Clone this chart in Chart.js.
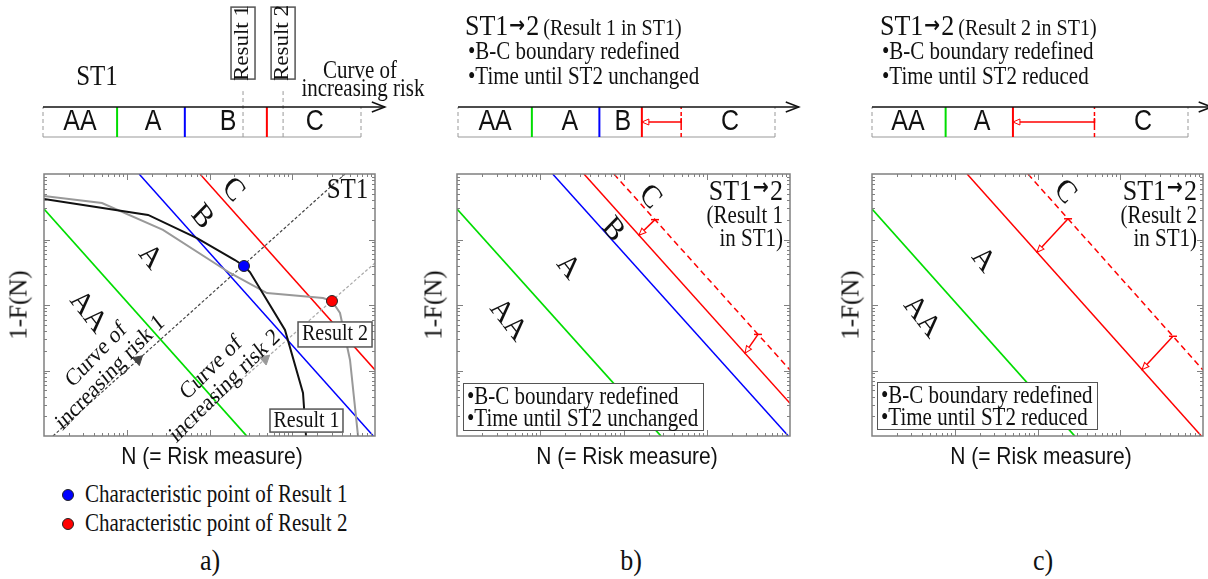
<!DOCTYPE html>
<html>
<head>
<meta charset="utf-8">
<title>Risk classes ST1 to ST2</title>
<script src="https://cdn.jsdelivr.net/npm/chart.js@4.4.1/dist/chart.umd.min.js"></script>
<style>
  body { margin: 0; background: #fff; }
  #page { position: relative; width: 1208px; height: 579px; overflow: hidden; font-family: "Liberation Serif", serif; color: #111; }
  canvas { position: absolute; }
  .t { position: absolute; white-space: nowrap; transform: translate(-50%, -50%) scaleY(1.15); line-height: 1; }
  .l { position: absolute; white-space: nowrap; transform: translate(0, -50%) scaleY(1.15); line-height: 1; }
  .sans { font-family: "Liberation Sans", Arial, sans-serif; }
  .ylab { position: absolute; white-space: nowrap; line-height: 1; font-size: 25px; transform: translate(-50%, -50%) rotate(-90deg); }
  .note { position: absolute; border: 1.5px solid #555; background: #fff; font-size: 21px; line-height: 22px; padding: 1px 5px 1px 3px; white-space: nowrap; }
  .note span { display: inline-block; transform: scaleY(1.15); }
  .dot { position: absolute; width: 10px; height: 10px; border-radius: 50%; border: 1px solid #222; transform: translate(-50%, -50%); }
  .arr { font-family: "DejaVu Sans", sans-serif; font-weight: bold; font-size: 19px; margin: 0 1px; position: relative; top: -3px; }
</style>
</head>
<body>
<div id="page">
  <canvas id="tlA" width="430" height="160" style="left:0;top:0"></canvas>
  <canvas id="tlB" width="390" height="160" style="left:430px;top:0"></canvas>
  <canvas id="tlC" width="378" height="160" style="left:830px;top:0"></canvas>
  <canvas id="plA" width="410" height="290" style="left:0;top:160px"></canvas>
  <canvas id="plB" width="400" height="290" style="left:420px;top:160px"></canvas>
  <canvas id="plC" width="378" height="290" style="left:830px;top:160px"></canvas>

  <div class="t" style="left:97px;top:75px;font-size:25px">ST1</div>
  <div class="l" style="left:465px;top:26px"><span style="font-size:26px">ST1<span class="arr">→</span>2</span> <span style="font-size:20px">(Result 1 in ST1)</span></div>
  <div class="l" style="left:468px;top:52px;font-size:21px">•B-C boundary redefined</div>
  <div class="l" style="left:468px;top:77px;font-size:21px">•Time until ST2 unchanged</div>
  <div class="l" style="left:880px;top:26px"><span style="font-size:26px">ST1<span class="arr">→</span>2</span> <span style="font-size:20px">(Result 2 in ST1)</span></div>
  <div class="l" style="left:882px;top:52px;font-size:21px">•B-C boundary redefined</div>
  <div class="l" style="left:882px;top:77px;font-size:21px">•Time until ST2 reduced</div>

  <div class="note" style="left:463px;top:383px"><span>•B-C boundary redefined</span><br><span>•Time until ST2 unchanged</span></div>
  <div class="note" style="left:877px;top:382px"><span>•B-C boundary redefined</span><br><span>•Time until ST2 reduced</span></div>

  <div class="ylab" style="left:18px;top:305px">1-F(N)</div>
  <div class="ylab" style="left:433px;top:305px">1-F(N)</div>
  <div class="ylab" style="left:850px;top:305px">1-F(N)</div>
  <div class="t sans" style="left:212px;top:455px;font-size:21px">N (= Risk measure)</div>
  <div class="t sans" style="left:627px;top:455px;font-size:21px">N (= Risk measure)</div>
  <div class="t sans" style="left:1041px;top:455px;font-size:21px">N (= Risk measure)</div>

  <div class="dot" style="left:68px;top:495px;background:#0000ff"></div>
  <div class="l" style="left:85px;top:495px;font-size:21px">Characteristic point of Result 1</div>
  <div class="dot" style="left:68px;top:524px;background:#ff0000"></div>
  <div class="l" style="left:85px;top:524px;font-size:21px">Characteristic point of Result 2</div>

  <div class="t" style="left:210px;top:561px;font-size:26px">a)</div>
  <div class="t" style="left:631px;top:561px;font-size:26px">b)</div>
  <div class="t" style="left:1043px;top:561px;font-size:26px">c)</div>
</div>
<script>
// ---- timeline: positions along the curve of increasing risk (box runs 0..100) ----
const st1Bounds = [23.3, 44.6, 70.4];       // AA|A, A|B, B|C in ST1
const st1Results = [62.9, 75.5];            // Result 1, Result 2
const st12r1Bounds = [23.3, 44.6, 58.0];    // B|C moved back after Result 1
const st12r2Bounds = [23.3, 44.6];          // B|C moved onto A|B after Result 2
const oldBC = 70.4;                         // former B|C boundary (dashed)

// ---- 1-F(N) vs N plots, points are [N, 1-F(N)] ----
const aaLine = [[1, 0.292], [282, 1e-4]];
const abLine = [[14.1, 1], [9550, 1e-4]];
const bcLine = [[76.7, 1], [1e4, 1.02e-3]];
const bcLineR1 = [[33.5, 1], [1e4, 3.16e-4]];
const bcLineR2 = [[14.1, 1], [9550, 1e-4]];

const result1N = [1, 18.1, 70.6, 203, 261, 308, 817, 1349, 1466];
const result1P = [0.415, 0.237, 0.105, 0.0486, 0.0394, 0.0319, 4.15e-3, 4.53e-4, 1e-4];
const result2N = [1, 5.02, 27.4, 177, 495, 2355, 3020, 3776, 4989, 6237];
const result2P = [0.461, 0.361, 0.140, 0.0308, 0.0152, 0.0128, 0.0115, 7.55e-3, 1.45e-3, 1e-4];
const charPoints = [[261, 0.0394], [3020, 0.0115]];

const risk1Line = [[1.285, 1e-4], [4335, 1]];
const risk2Line = [[40.5, 1e-4], [1e4, 0.0438]];
const riskMarks = [[13.7, 1.46e-3], [469, 1.49e-3]];

// shift of B-C boundary: [point on old line, point on new line]
const shiftR1 = [[[239, 0.201], [153, 0.116]], [[4130, 3.56e-3], [2880, 1.84e-3]]];
const shiftR2 = [[[234, 0.207], [98.6, 0.064]], [[4335, 3.33e-3], [1832, 1.03e-3]]];

const GREEN = '#00dd00', BLUE = '#0000ff', RED = '#ff0000';
const SERIF = '"Liberation Serif", serif', SANS = '"Liberation Sans", Arial, sans-serif';
const ARROW_FONT = 'bold 19px "DejaVu Sans", sans-serif';
const TL_END = 100, TL_ARROW = 107.5, DOT_LEVEL = 1.53;
const STRETCH = 1.15;   // text in the source figure is a bit taller than wide

function pts(pairs) { return pairs.map(p => ({x: p[0], y: p[1]})); }
function zip(xs, ys) { return xs.map((x, i) => ({x: x, y: ys[i]})); }

function lineSet(data, color, width, dash, extra) {
    return Object.assign({
        data: data, showLine: true, borderColor: color, borderWidth: width,
        borderDash: dash || [], pointRadius: 0, pointHoverRadius: 0, fill: false, tension: 0
    }, extra || {});
}

function dotSet(data, color, radius, extra) {
    return Object.assign({
        data: data, showLine: false, pointRadius: radius, pointHoverRadius: radius,
        backgroundColor: color, borderColor: '#222', borderWidth: 1
    }, extra || {});
}

// inward tick marks + frame of the log-log plots
function logSteps(scale) {
    let out = [];
    for (let e = Math.round(Math.log10(scale.min)); e < Math.round(Math.log10(scale.max)); e++) {
        for (let m = 1; m < 10; m++) {
            let v = m * Math.pow(10, e);
            if (v > scale.min * 1.0001 && v < scale.max * 0.9999) out.push([v, m == 1]);
        }
    }
    return out;
}

const frame = {
    id: 'frame',
    afterDatasetsDraw(chart) {
        const {ctx, chartArea: a, scales} = chart;
        ctx.save();
        ctx.strokeStyle = '#808080';
        ctx.lineWidth = 1;
        ctx.beginPath();
        logSteps(scales.x).forEach(([v, major]) => {
            let px = Math.round(scales.x.getPixelForValue(v)) + 0.5, len = major ? 6 : 3;
            ctx.moveTo(px, a.bottom); ctx.lineTo(px, a.bottom - len);
            ctx.moveTo(px, a.top); ctx.lineTo(px, a.top + len);
        });
        logSteps(scales.y).forEach(([v, major]) => {
            let py = Math.round(scales.y.getPixelForValue(v)) + 0.5, len = major ? 6 : 3;
            ctx.moveTo(a.left, py); ctx.lineTo(a.left + len, py);
            ctx.moveTo(a.right, py); ctx.lineTo(a.right - len, py);
        });
        ctx.stroke();
        ctx.lineWidth = 1.5;
        ctx.strokeRect(a.left, a.top, a.width, a.height);
        ctx.restore();
    }
};

// arrow heads at the end of datasets flagged with head / tail
const arrowHeads = {
    id: 'arrowHeads',
    afterDatasetsDraw(chart) {
        const ctx = chart.ctx;
        chart.data.datasets.forEach((ds, i) => {
            if (!ds.head) return;
            const el = chart.getDatasetMeta(i).data;
            const a = el[el.length - 2], b = el[el.length - 1];
            const ang = Math.atan2(b.y - a.y, b.x - a.x);
            ctx.save();
            ctx.strokeStyle = ds.borderColor;
            ctx.setLineDash([]);
            if (ds.tail != null) {
                const t = ds.tail * Math.PI / 180;
                ctx.lineWidth = ds.borderWidth;
                ctx.beginPath();
                ctx.moveTo(a.x - Math.cos(t) * 4, a.y - Math.sin(t) * 4);
                ctx.lineTo(a.x + Math.cos(t) * 4, a.y + Math.sin(t) * 4);
                ctx.stroke();
            }
            ctx.translate(b.x, b.y);
            ctx.rotate(ang);
            if (ds.head == 'open') {
                ctx.lineWidth = ds.borderWidth;
                ctx.beginPath(); ctx.moveTo(-13, -5); ctx.lineTo(0, 0); ctx.lineTo(-13, 5); ctx.stroke();
            } else {
                ctx.lineWidth = 1;
                ctx.fillStyle = '#fff';
                ctx.beginPath(); ctx.moveTo(0, 0); ctx.lineTo(-7, -3); ctx.lineTo(-7, 3); ctx.closePath();
                ctx.fill(); ctx.stroke();
            }
            ctx.restore();
        });
    }
};

// text placed at data coordinates; "ST1->2" gets its arrow in another font
function drawLine(ctx, s, y, size, family, align) {
    let parts = s.split('→');
    if (parts.length == 1) { ctx.textAlign = align; ctx.fillText(s, 0, y); return; }
    let main = size + 'px ' + family;
    let seq = [[parts[0], main], ['→', ARROW_FONT], [parts[1], main]];
    let widths = seq.map(p => { ctx.font = p[1]; return ctx.measureText(p[0]).width + (p[0] == '→' ? 2 : 0); });
    let total = widths.reduce((a, b) => a + b, 0);
    let x = align == 'right' ? -total : align == 'center' ? -total / 2 : 0;
    ctx.textAlign = 'left';
    seq.forEach((p, k) => {
        ctx.font = p[1];
        ctx.fillText(p[0], x + (p[0] == '→' ? 1 : 0), y - (p[0] == '→' ? 3 : 0));
        x += widths[k];
    });
}

function notes(items) {
    return {
        id: 'notes',
        afterDatasetsDraw(chart) {
            const {ctx, scales} = chart;
            items.forEach(it => {
                let rot = (it.rot || 0) * Math.PI / 180;
                ctx.save();
                ctx.translate(scales.x.getPixelForValue(it.at[0]), scales.y.getPixelForValue(it.at[1]));
                if (it.box) {
                    ctx.save();
                    ctx.rotate(rot);
                    let w = it.box[0], h = it.box[1];
                    ctx.fillStyle = '#fff';
                    ctx.fillRect(-w / 2, -h / 2, w, h);
                    ctx.strokeStyle = '#555';
                    ctx.lineWidth = 1.5;
                    ctx.strokeRect(-w / 2, -h / 2, w, h);
                    ctx.restore();
                }
                ctx.scale(1, STRETCH);
                ctx.rotate(rot);
                let family = it.sans ? SANS : SERIF;
                ctx.font = it.size + 'px ' + family;
                ctx.fillStyle = '#111';
                ctx.textBaseline = 'middle';
                let lines = it.text.split('\n');
                lines.forEach((s, k) => drawLine(ctx, s, (k - (lines.length - 1) / 2) * it.size * 1.0, it.size, family, it.align || 'center'));
                ctx.restore();
            });
        }
    };
}

function baseOptions(pad, xScale, yScale) {
    return {
        responsive: false, animation: false, events: [],
        layout: { padding: pad },
        plugins: { legend: { display: false }, tooltip: { enabled: false } },
        scales: { x: xScale, y: yScale }
    };
}

function timeline(id, pad, sets, items) {
    sets.forEach(s => s.clip = false);
    return new Chart(document.getElementById(id), {
        type: 'scatter',
        data: { datasets: sets.slice().reverse() },
        options: baseOptions(pad,
            { type: 'linear', min: 0, max: TL_END, display: false },
            { type: 'linear', min: 0, max: 1, display: false }),
        plugins: [arrowHeads, notes(items)]
    });
}

function plot(id, pad, sets, items) {
    return new Chart(document.getElementById(id), {
        type: 'scatter',
        data: { datasets: sets.slice().reverse() },
        options: baseOptions(pad,
            { type: 'logarithmic', min: 1, max: 1e4, display: false },
            { type: 'logarithmic', min: 1e-4, max: 1, display: false }),
        plugins: [frame, arrowHeads, notes(items)]
    });
}

function timelineBase(bounds, colors) {
    let s = [
        lineSet(pts([[0, 0], [TL_END, 0]]), '#999', 1),
        lineSet(pts([[0, 0], [0, 1]]), '#999', 1, [4, 3]),
        lineSet(pts([[TL_END, 0], [TL_END, 1]]), '#999', 1, [4, 3])
    ];
    bounds.forEach((b, i) => s.push(lineSet(pts([[b, 0], [b, 1]]), colors[i], 2)));
    return s;
}

function letters(xs, names) {
    return names.map((n, i) => ({ at: [xs[i], 0.5], text: n, size: 25, sans: true }));
}

// ---- a) ST1 timeline ----
let setsA = timelineBase(st1Bounds, [GREEN, BLUE, RED]);
st1Results.forEach(r => setsA.push(lineSet(pts([[r, 0], [r, DOT_LEVEL]]), '#999', 1, [4, 3])));
setsA.push(lineSet(pts([[0, 1], [TL_ARROW, 1]]), '#111', 1.5, null, { head: 'open' }));
setsA.push(dotSet(pts([[st1Results[0], DOT_LEVEL]]), BLUE, 5));
setsA.push(dotSet(pts([[st1Results[1], DOT_LEVEL]]), RED, 5));
timeline('tlA', { left: 43, right: 69, top: 107, bottom: 23 }, setsA,
    letters([11.6, 34.6, 58.2, 85.5], ['AA', 'A', 'B', 'C']).concat([
        { at: [st1Results[0], 3.13], text: 'Result 1', size: 20, rot: -90, box: [72, 24] },
        { at: [st1Results[1], 3.13], text: 'Result 2', size: 20, rot: -90, box: [72, 24] },
        { at: [99.7, 2.17], text: 'Curve of', size: 21 },
        { at: [100.6, 1.57], text: 'increasing risk', size: 21 }
    ]));

// ---- b) ST1->2 timeline, Result 1 ----
let setsB = timelineBase(st12r1Bounds, [GREEN, BLUE, RED]);
setsB.push(lineSet(pts([[oldBC, 0], [oldBC, 1]]), RED, 1.5, [4, 3]));
setsB.push(lineSet(pts([[oldBC, 0.5], [st12r1Bounds[2], 0.5]]), RED, 1.5, null, { head: 'hollow', tail: 90 }));
setsB.push(lineSet(pts([[0, 1], [TL_ARROW, 1]]), '#111', 1.5, null, { head: 'open' }));
timeline('tlB', { left: 28, right: 45, top: 107, bottom: 23 }, setsB,
    letters([11.7, 35.3, 52, 85.8], ['AA', 'A', 'B', 'C']));

// ---- c) ST1->2 timeline, Result 2 ----
let setsC = timelineBase(st12r2Bounds, [GREEN, RED]);
setsC.push(lineSet(pts([[oldBC, 0], [oldBC, 1]]), RED, 1.5, [4, 3]));
setsC.push(lineSet(pts([[oldBC, 0.5], [st12r2Bounds[1], 0.5]]), RED, 1.5, null, { head: 'hollow', tail: 90 }));
setsC.push(lineSet(pts([[0, 1], [TL_ARROW, 1]]), '#111', 1.5, null, { head: 'open' }));
timeline('tlC', { left: 42, right: 20, top: 107, bottom: 23 }, setsC,
    letters([11.4, 34.8, 85.8], ['AA', 'A', 'C']));

// ---- a) ST1 plot ----
plot('plA', { left: 44, right: 35, top: 14, bottom: 14 }, [
    lineSet(pts(aaLine), GREEN, 1.8),
    lineSet(pts(abLine), BLUE, 1.5),
    lineSet(pts(bcLine), RED, 1.5),
    lineSet(pts(risk1Line), '#444', 1.2, [3, 2]),
    lineSet(pts(risk2Line), '#aaa', 1.2, [3, 2]),
    dotSet(pts([riskMarks[0]]), '#444', 6, { pointStyle: 'triangle', rotation: 48, borderColor: '#444' }),
    dotSet(pts([riskMarks[1]]), '#999', 6, { pointStyle: 'triangle', rotation: 49, borderColor: '#999' }),
    lineSet(zip(result2N, result2P), '#999', 2),
    lineSet(zip(result1N, result1P), '#111', 2),
    dotSet(pts([charPoints[0]]), BLUE, 5.5),
    dotSet(pts([charPoints[1]]), RED, 5.5)
], [
    { at: [192, 0.57], text: 'C', size: 28, rot: 48 },
    { at: [81, 0.221], text: 'B', size: 28, rot: 48 },
    { at: [19.1, 0.054], text: 'A', size: 28, rot: 48 },
    { at: [3.4, 7.8e-3], text: 'AA', size: 28, rot: 48 },
    { at: [4650, 0.57], text: 'ST1', size: 25 },
    { at: [5.2, 1.26e-3], text: 'Curve of\nincreasing risk 1', size: 21, rot: -42 },
    { at: [127, 7.9e-4], text: 'Curve of\nincreasing risk 2', size: 21, rot: -41 },
    { at: [3289, 3.55e-3], text: 'Result 2', size: 20, box: [74, 25] },
    { at: [1486, 1.72e-4], text: 'Result 1', size: 20, box: [73, 23] }
]);

// ---- b) ST1->2 plot, Result 1 ----
let plotB = [
    lineSet(pts(aaLine), GREEN, 1.8),
    lineSet(pts(abLine), BLUE, 1.5),
    lineSet(pts(bcLine), RED, 1.5, [6, 4]),
    lineSet(pts(bcLineR1), RED, 1.5)
];
shiftR1.forEach(s => plotB.push(lineSet(pts(s), RED, 1.5, null, { head: 'hollow', tail: 0 })));
plot('plB', { left: 37, right: 30, top: 14, bottom: 14 }, plotB, [
    { at: [208, 0.445], text: 'C', size: 28, rot: 48 },
    { at: [74.8, 0.14], text: 'B', size: 28, rot: 48 },
    { at: [21.5, 0.038], text: 'A', size: 28, rot: 48 },
    { at: [4.1, 5.9e-3], text: 'AA', size: 28, rot: 48 },
    { at: [8240, 0.53], text: 'ST1→2', size: 26, align: 'right' },
    { at: [8240, 0.221], text: '(Result 1', size: 21, align: 'right' },
    { at: [8240, 0.098], text: 'in ST1)', size: 21, align: 'right' }
]);

// ---- c) ST1->2 plot, Result 2 ----
let plotC = [
    lineSet(pts(aaLine), GREEN, 1.8),
    lineSet(pts(bcLine), RED, 1.5, [6, 4]),
    lineSet(pts(bcLineR2), RED, 1.5)
];
shiftR2.forEach(s => plotC.push(lineSet(pts(s), RED, 1.5, null, { head: 'hollow', tail: 0 })));
plot('plC', { left: 42, right: 5, top: 14, bottom: 14 }, plotC, [
    { at: [215, 0.53], text: 'C', size: 28, rot: 48 },
    { at: [21.9, 0.0486], text: 'A', size: 28, rot: 48 },
    { at: [4.0, 6.6e-3], text: 'AA', size: 28, rot: 48 },
    { at: [8460, 0.53], text: 'ST1→2', size: 26, align: 'right' },
    { at: [8460, 0.221], text: '(Result 2', size: 21, align: 'right' },
    { at: [8460, 0.098], text: 'in ST1)', size: 21, align: 'right' }
]);
</script>
</body>
</html>
